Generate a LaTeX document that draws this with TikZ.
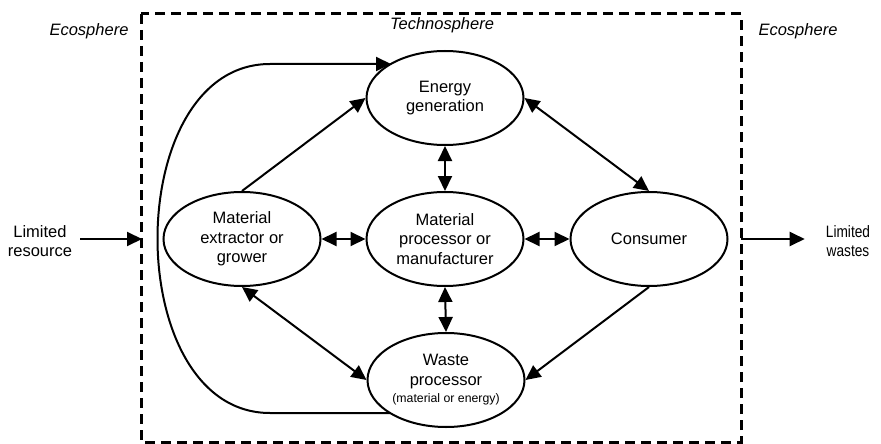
\documentclass[tikz,border=0pt]{standalone}
\usepackage{fontspec}
\setmainfont{Liberation Sans}
\usetikzlibrary{shapes.geometric,arrows.meta,calc}
\begin{document}
\begin{tikzpicture}[x=1pt,y=-1pt,
  proc/.style={ellipse,draw,line width=2pt,minimum width=157pt,minimum height=94pt,inner sep=0pt,align=center,font=\fontsize{16.5}{19.5}\selectfont},
  lbl/.style={align=center,font=\fontsize{16.5}{19.5}\selectfont,inner sep=0pt},
  sphere/.style={font=\fontsize{16.5}{19}\selectfont\itshape,inner sep=0pt},
  conn/.style={line width=2pt,-{Triangle[length=15pt,width=14pt]}},
  biconn/.style={line width=2pt,{Triangle[length=15pt,width=14pt]}-{Triangle[length=15pt,width=14pt]}},
  boundary/.style={line width=3pt,dash pattern=on 10pt off 6pt}]
\useasboundingbox (0,0) rectangle (881,444);
\draw[boundary] (141,14) rectangle (741,442);
\node[sphere] (eco1) at (89,31) {Ecosphere};
\node[sphere] (eco2) at (798,31) {Ecosphere};
\node[sphere] (techno) at (442,25) {Technosphere};
\node[proc] (energy) at (445,98) {Energy\\generation};
\node[proc] (extr) at (242,239) {Material\\extractor or\\grower};
\node[proc] (manu) at (445,239) {Material\\processor or\\manufacturer};
\node[proc] (cons) at (649,239) {Consumer};
\node[proc] (waste) at (446,380) {Waste\\processor\\[-2pt]{\fontsize{12.3}{14}\selectfont (material or energy)}};
\node[lbl] (res) at (40,241) {Limited\\resource};
\node[lbl] (wst) at (848,241) {\scalebox{0.83}[1]{Limited}\\\scalebox{0.83}[1]{wastes}};
\coordinate (inL) at (142,239);
\coordinate (outR) at (741,239);
\draw[conn] ($(res.east)+(8,-2)$) -- (inL);
\draw[conn] (outR) -- ($(wst.west)+(-21,-2)$);
\draw[conn] (extr.north) -- (energy.west);
\draw[biconn] (energy.east) -- (cons.north);
\draw[conn] (cons.south) -- (waste.east);
\draw[biconn] (extr.south) -- (waste.west);
\draw[biconn] (energy.south) -- (manu.north);
\draw[biconn] (manu.south) -- (waste.north);
\draw[biconn] (extr.east) -- (manu.west);
\draw[biconn] (manu.east) -- (cons.west);
\draw[conn] ($(waste.center)+(-56,33)$) -- (270,413) .. controls (120,413) and (120,64) .. (270,64) -- ($(energy.center)+(-54,-34)$);
\end{tikzpicture}
\end{document}
